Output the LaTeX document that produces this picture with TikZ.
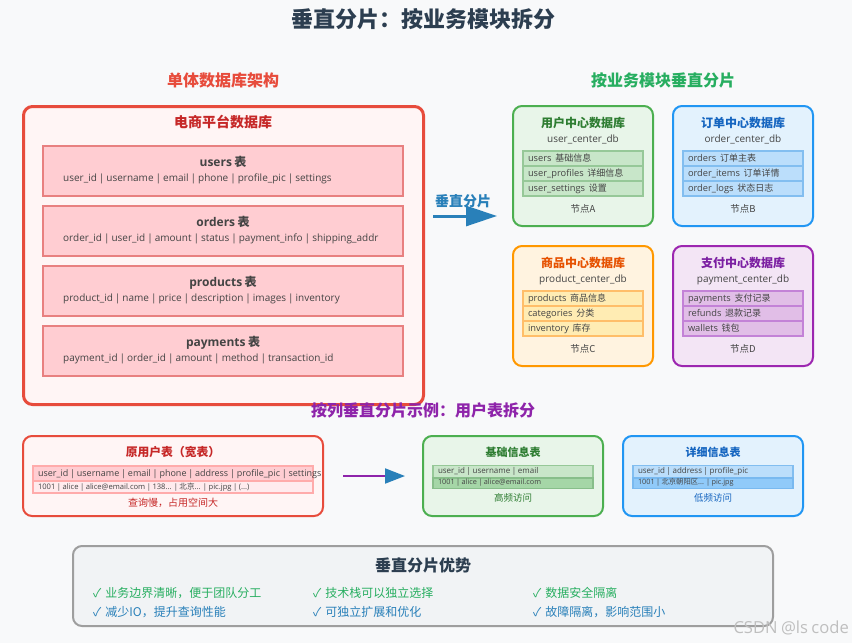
\documentclass[tikz,border=0pt]{standalone}
\usepackage{fontspec}
\setmainfont{Open Sans}
\newfontfamily\zh{Noto Sans CJK SC}
\usetikzlibrary{arrows.meta}
\newcommand{\fs}[1]{\fontsize{#1}{#1}\selectfont\spaceskip=.2em\relax}
\newcommand{\fsgain}[1]{\fontsize{#1}{#1}\selectfont\spaceskip=.33em\relax}
\definecolor{pagebg}{HTML}{F8F9FA}
\definecolor{inkdark}{HTML}{2C3E50}
\definecolor{inktext}{HTML}{444444}
\definecolor{redline}{HTML}{E74C3C}
\definecolor{reddark}{HTML}{C62828}
\definecolor{greenline}{HTML}{4CAF50}
\definecolor{greendark}{HTML}{2E7D32}
\definecolor{blueline}{HTML}{2196F3}
\definecolor{bluedark}{HTML}{1565C0}
\definecolor{orangeline}{HTML}{FF9800}
\definecolor{orangedark}{HTML}{E65100}
\definecolor{purpleline}{HTML}{9C27B0}
\definecolor{purpledark}{HTML}{7B1FA2}
\definecolor{headgreen}{HTML}{27AE60}
\definecolor{headblue}{HTML}{2980B9}
\definecolor{headpurple}{HTML}{8E24AA}
\tikzset{
    box/.style={draw,rectangle,rounded corners=9pt,line width=2pt,inner sep=0pt,outer sep=0pt},
    redbox/.style={box,draw=redline,fill={rgb,255:red,255;green,245;blue,245}},
    greenbox/.style={box,draw=greenline,fill={rgb,255:red,232;green,245;blue,233}},
    bluebox/.style={box,draw=blueline,fill={rgb,255:red,227;green,242;blue,253}},
    orangebox/.style={box,draw=orangeline,fill={rgb,255:red,255;green,243;blue,224}},
    purplebox/.style={box,draw=purpleline,fill={rgb,255:red,243;green,229;blue,245}},
    tablerow/.style={draw={rgb,255:red,232;green,128;blue,128},fill={rgb,255:red,255;green,205;blue,210},line width=2pt,minimum width=360pt,minimum height=50pt,inner sep=0pt,outer sep=0pt},
    row/.style={rectangle,line width=1.5pt,text=inktext,align=flush left,inner ysep=0pt,inner xsep=5pt,outer sep=0pt,text depth=2.4pt,font=\fs{9.3}},
    dbrow/.style={row,text width=110pt,text height=7.5pt,minimum height=15pt},
    greenrow/.style={dbrow,draw={rgb,255:red,150;green,200;blue,152},fill={rgb,255:red,200;green,230;blue,201}},
    bluerow/.style={dbrow,draw={rgb,255:red,130;green,190;blue,240},fill={rgb,255:red,187;green,222;blue,251}},
    orangerow/.style={dbrow,draw={rgb,255:red,255;green,190;blue,105},fill={rgb,255:red,255;green,236;blue,179}},
    purplerow/.style={dbrow,draw={rgb,255:red,195;green,130;blue,215},fill={rgb,255:red,225;green,190;blue,231}},
    smallrow/.style={row,text width=150pt,text height=6.2pt,text depth=2.2pt,minimum height=12pt,font=\fs{8}},
    lowrow/.style={smallrow,text height=5.8pt,text depth=2pt,minimum height=10.5pt,font=\fs{7.3}},
    heading/.style={anchor=base,inner sep=0pt,font=\zh\bfseries\fs{16}},
    dbtitle/.style={anchor=base,inner sep=0pt,font=\zh\bfseries\fs{12}},
    dbname/.style={anchor=base,inner sep=0pt,text=inktext,font=\fs{10}},
    nodelabel/.style={anchor=base,inner sep=0pt,text=inktext,font=\zh\fs{9.5}},
    fields/.style={anchor=base west,inner sep=0pt,text=inktext,font=\fs{10}},
    tabletitle/.style={anchor=base,inner sep=0pt,text=inktext,font=\bfseries\fs{12}},
    gain/.style={anchor=base west,inner sep=0pt,font=\zh\fsgain{12}}
}
\begin{document}
\begin{tikzpicture}[x=1pt,y=-1pt]
    \fill[pagebg] (0,0) rectangle (852,643);
    \node[anchor=base,inner sep=0pt,text=inkdark,font=\zh\bfseries\fs{22}] (maintitle) at (423,27) {垂直分片：按业务模块拆分};
    \node[heading,text=redline] (monohead) at (223,86) {单体数据库架构};
    \node[heading,text=headgreen] (splithead) at (663,86) {按业务模块垂直分片};

    % monolith database with its four wide tables
    \node[redbox,line width=3pt,minimum width=400pt,minimum height=298pt] (mono) at (223.5,255.5) {};
    \node[anchor=base,inner sep=0pt,text=reddark,font=\zh\bfseries\fs{14}] (monotitle) at (223,127) {电商平台数据库};
    \node[tablerow] (users) at (223,171) {};
    \node[tabletitle] (userst) at (223,166) {users {\zh 表}};
    \node[fields] (usersf) at (63,181) {user\_id | username | email | phone | profile\_pic | settings};
    \node[tablerow] (orders) at (223,231) {};
    \node[tabletitle] (orderst) at (223,226) {orders {\zh 表}};
    \node[fields] (ordersf) at (63,241) {order\_id | user\_id | amount | status | payment\_info | shipping\_addr};
    \node[tablerow] (products) at (223,291) {};
    \node[tabletitle] (productst) at (223,286) {products {\zh 表}};
    \node[fields] (productsf) at (63,301) {product\_id | name | price | description | images | inventory};
    \node[tablerow] (payments) at (223,351) {};
    \node[tabletitle] (paymentst) at (223,346) {payments {\zh 表}};
    \node[fields] (paymentsf) at (63,361) {payment\_id | order\_id | amount | method | transaction\_id};

    % arrow between monolith and the split databases
    \coordinate (splitfrom) at (433,216);
    \coordinate (splitto) at (497,216);
    \draw[headblue,line width=3pt,-{Triangle[length=31pt,width=20pt]}] (splitfrom)--(splitto);
    \node[anchor=base,inner sep=0pt,text=headblue,font=\zh\bfseries\fs{14}] (splitlabel) at (463,206) {垂直分片};

    % user center
    \node[greenbox,minimum width=140pt,minimum height=120pt] (userdb) at (583,166) {};
    \node[dbtitle,text=greendark] (userdbt) at (583,127) {用户中心数据库};
    \node[dbname] (userdbn) at (583,142) {user\_center\_db};
    \node[greenrow] (userrowa) at (583,158.5) {users {\zh\fs{9} 基础信息}};
    \node[greenrow] (userrowb) at (583,173.5) {user\_profiles {\zh\fs{9} 详细信息}};
    \node[greenrow] (userrowc) at (583,188.5) {user\_settings {\zh\fs{9} 设置}};
    \node[nodelabel] (nodea) at (583,212) {节点A};

    % order center
    \node[bluebox,minimum width=140pt,minimum height=120pt] (orderdb) at (743,166) {};
    \node[dbtitle,text=bluedark] (orderdbt) at (743,127) {订单中心数据库};
    \node[dbname] (orderdbn) at (743,142) {order\_center\_db};
    \node[bluerow] (orderrowa) at (743,158.5) {orders {\zh\fs{9} 订单主表}};
    \node[bluerow] (orderrowb) at (743,173.5) {order\_items {\zh\fs{9} 订单详情}};
    \node[bluerow] (orderrowc) at (743,188.5) {order\_logs {\zh\fs{9} 状态日志}};
    \node[nodelabel] (nodeb) at (743,212) {节点B};

    % product center
    \node[orangebox,minimum width=140pt,minimum height=120pt] (productdb) at (583,306) {};
    \node[dbtitle,text=orangedark] (productdbt) at (583,267) {商品中心数据库};
    \node[dbname] (productdbn) at (583,282) {product\_center\_db};
    \node[orangerow] (productrowa) at (583,298.5) {products {\zh\fs{9} 商品信息}};
    \node[orangerow] (productrowb) at (583,313.5) {categories {\zh\fs{9} 分类}};
    \node[orangerow] (productrowc) at (583,328.5) {inventory {\zh\fs{9} 库存}};
    \node[nodelabel] (nodec) at (583,352) {节点C};

    % payment center
    \node[purplebox,minimum width=140pt,minimum height=120pt] (paydb) at (743,306) {};
    \node[dbtitle,text=purpledark] (paydbt) at (743,267) {支付中心数据库};
    \node[dbname] (paydbn) at (743,282) {payment\_center\_db};
    \node[purplerow] (payrowa) at (743,298.5) {payments {\zh\fs{9} 支付记录}};
    \node[purplerow] (payrowb) at (743,313.5) {refunds {\zh\fs{9} 退款记录}};
    \node[purplerow] (payrowc) at (743,328.5) {wallets {\zh\fs{9} 钱包}};
    \node[nodelabel] (noded) at (743,352) {节点D};

    % column split example
    \node[heading,text=headpurple] (examplehead) at (423,416) {按列垂直分片示例：用户表拆分};
    \node[redbox,minimum width=300pt,minimum height=80pt] (wide) at (173,476) {};
    \node[anchor=base,inner sep=0pt,text=reddark,font=\zh\bfseries\fs{11.8}] (widet) at (173,456) {原用户表（宽表）};
    \node[row,text width=270pt,text height=7.5pt,minimum height=15pt,font=\fs{9},draw={rgb,255:red,255;green,171;blue,171},fill={rgb,255:red,255;green,205;blue,210}] (widerowa) at (173,473.5) {\mbox{user\_id | username | email | phone | address | profile\_pic | settings}};
    \node[row,text width=270pt,text height=6.5pt,text depth=2.2pt,minimum height=12pt,font=\fs{7.6},draw={rgb,255:red,255;green,171;blue,171},fill={rgb,255:red,255;green,235;blue,238}] (widerowb) at (173,487) {1001 | alice | alice@email.com | 138... | {\zh 北京}... | pic.jpg | (...)};
    \node[anchor=base,inner sep=0pt,text=reddark,font=\zh\fs{10}] (widenote) at (173,506) {查询慢，占用空间大};
    \coordinate (colfrom) at (343,476);
    \coordinate (colto) at (405,476);
    \draw[headpurple,line width=2pt,-{Triangle[length=20pt,width=15pt,color=headblue]}] (colfrom)--(colto);

    \node[greenbox,minimum width=180pt,minimum height=80pt] (basic) at (513,476) {};
    \node[anchor=base,inner sep=0pt,text=greendark,font=\zh\bfseries\fs{11}] (basict) at (513,456) {基础信息表};
    \node[smallrow,draw={rgb,255:red,150;green,200;blue,152},fill={rgb,255:red,200;green,230;blue,201}] (basicrowa) at (513,471.7) {user\_id | username | email};
    \node[lowrow,draw={rgb,255:red,135;green,190;blue,138},fill={rgb,255:red,165;green,214;blue,167}] (basicrowb) at (513,483) {1001 | alice | alice@email.com};
    \node[anchor=base,inner sep=0pt,text=greendark,font=\zh\fs{9.5}] (basicnote) at (513,501) {高频访问};

    \node[bluebox,minimum width=180pt,minimum height=80pt] (detail) at (713,476) {};
    \node[anchor=base,inner sep=0pt,text=bluedark,font=\zh\bfseries\fs{11}] (detailt) at (713,456) {详细信息表};
    \node[smallrow,draw={rgb,255:red,130;green,190;blue,240},fill={rgb,255:red,187;green,222;blue,251}] (detailrowa) at (713,471.7) {user\_id | address | profile\_pic};
    \node[lowrow,draw={rgb,255:red,120;green,185;blue,240},fill={rgb,255:red,144;green,202;blue,249}] (detailrowb) at (713,483) {1001 | {\zh 北京朝阳区}... | pic.jpg};
    \node[anchor=base,inner sep=0pt,text=bluedark,font=\zh\fs{9.5}] (detailnote) at (713,501) {低频访问};

    % advantages
    \node[box,draw={rgb,255:red,158;green,158;blue,158},fill={rgb,255:red,241;green,243;blue,245},minimum width=700pt,minimum height=80pt] (gains) at (423,586) {};
    \node[anchor=base,inner sep=0pt,text=inkdark,font=\zh\bfseries\fs{16}] (gainst) at (423,571) {垂直分片优势};
    \node[gain,text=headgreen] (gaina) at (93,597) {✓ 业务边界清晰，便于团队分工};
    \node[gain,text=headgreen] (gainb) at (313,597) {✓ 技术栈可以独立选择};
    \node[gain,text=headgreen] (gainc) at (533,597) {✓ 数据安全隔离};
    \node[gain,text=headblue] (gaind) at (93,616) {✓ 减少IO，提升查询性能};
    \node[gain,text=headblue] (gaine) at (313,616) {✓ 可独立扩展和优化};
    \node[gain,text=headblue] (gainf) at (533,616) {✓ 故障隔离，影响范围小};

    \node[anchor=base east,inner sep=0pt,text=black!25,font=\fs{16.6}] (mark) at (849,633) {CSDN @ls code};
\end{tikzpicture}
\end{document}
